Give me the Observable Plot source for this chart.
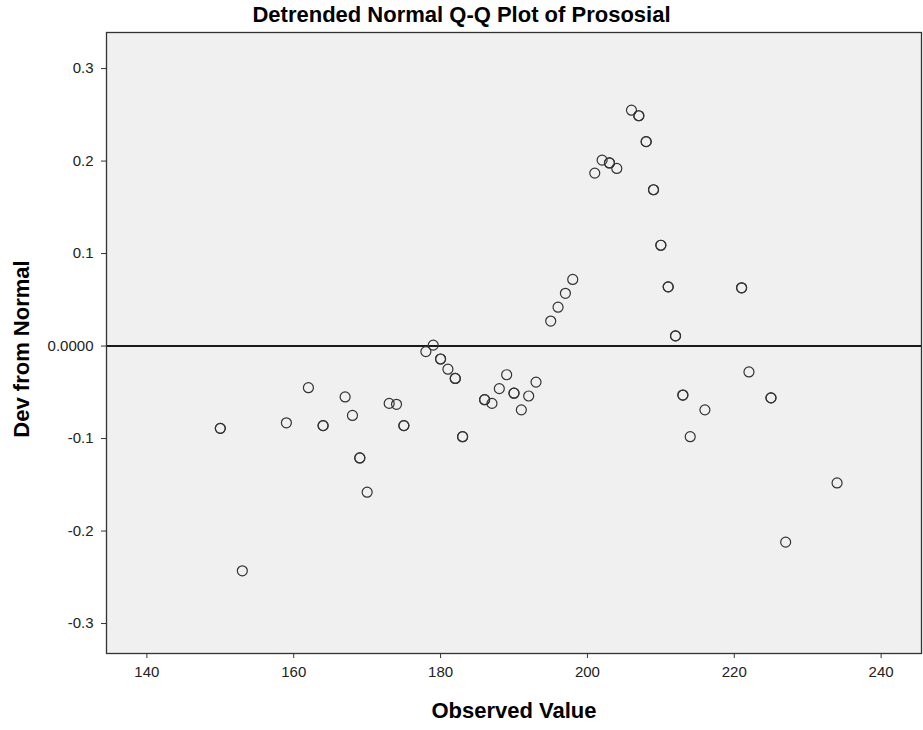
<!DOCTYPE html>
<html>
<head>
<meta charset="utf-8">
<script src="https://cdn.jsdelivr.net/npm/d3@7"></script>
<script src="https://cdn.jsdelivr.net/npm/@observablehq/plot@0.6"></script>
<style>
  html, body { margin: 0; padding: 0; background: #ffffff; }
  #wrap { width: 923px; height: 730px; overflow: hidden; }
  #title {
    width: 923px; height: 28px; box-sizing: border-box; padding-top: 2px;
    line-height: 26px; text-align: center;
    font-family: "Liberation Sans", Arial, sans-serif; font-weight: bold; font-size: 22px; color: #000;
  }
  svg { display: block; }
</style>
</head>
<body>
<div id="wrap">
  <div id="title">Detrended Normal Q-Q Plot of Prososial</div>
  <div id="chart"></div>
</div>
<script>
// Observed values (x) and deviation from normal (y); frequency = number of tied cases at a point
const observed = [150,153,159,162,164,167,168,169,170,173,174,175,178,179,180,181,182,183,186,187,188,189,190,191,192,193,195,196,197,198,201,202,203,204,206,207,208,209,210,211,212,213,214,216,221,222,225,227,234];
const devFromNormal = [-0.089,-0.243,-0.083,-0.045,-0.086,-0.055,-0.075,-0.121,-0.158,-0.062,-0.063,-0.086,-0.006,0.001,-0.014,-0.025,-0.035,-0.098,-0.058,-0.062,-0.046,-0.031,-0.051,-0.069,-0.054,-0.039,0.027,0.042,0.057,0.072,0.187,0.201,0.198,0.192,0.255,0.249,0.221,0.169,0.109,0.064,0.011,-0.053,-0.098,-0.069,0.063,-0.028,-0.056,-0.212,-0.148];
const frequency = [2,1,1,1,2,1,1,2,1,1,1,2,1,1,2,1,2,2,2,1,1,1,2,1,1,1,1,1,1,1,1,1,2,1,1,2,2,2,2,2,2,2,1,1,2,1,2,1,1];

const xTicks = [140,160,180,200,220,240];
const yTicks = [-0.3,-0.2,-0.1,0,0.1,0.2,0.3];
const xDomain = [134.5, 245.5];
const yDomain = [-0.3324, 0.339];
const xTitle = "Observed Value";
const yTitle = "Dev from Normal";

// expand tied cases so each case is drawn
const points = [];
observed.forEach((v, i) => {
  for (let k = 0; k < frequency[i]; k++) points.push({observed: v, dev: devFromNormal[i]});
});

const yFormat = d => d === 0 ? "0.0000" : d.toFixed(1);

const chart = Plot.plot({
  width: 923,
  height: 702,
  marginTop: 4,
  marginLeft: 106,
  marginRight: 2,
  marginBottom: 77,
  style: {fontFamily: "'Liberation Sans', Arial, sans-serif", fontSize: "15px", color: "#222", background: "#ffffff"},
  x: {domain: xDomain, ticks: xTicks, label: null},
  y: {domain: yDomain, ticks: yTicks, label: null},
  marks: [
    Plot.frame({fill: "#f0f0f0", stroke: null}),
    Plot.ruleY([0], {stroke: "#1a1a1a", strokeWidth: 2}),
    Plot.dot(points, {x: "observed", y: "dev", r: 5, stroke: "#333333", strokeWidth: 1.2, fill: "none"}),
    Plot.frame({stroke: "#333333", strokeWidth: 1.3}),
    Plot.axisX({ticks: xTicks, tickSize: 5, tickPadding: 8, label: null, stroke: "#333", fontSize: 15}),
    Plot.axisY({ticks: yTicks, tickSize: 5, tickPadding: 8, tickFormat: yFormat, label: null, stroke: "#333", fontSize: 15}),
    Plot.text([xTitle], {text: d => d, frameAnchor: "bottom", textAnchor: "middle", lineAnchor: "middle", dy: 57, fontSize: 22, fontWeight: "bold", fill: "#000"}),
    Plot.text([yTitle], {text: d => d, frameAnchor: "left", textAnchor: "middle", lineAnchor: "middle", dx: -85, dy: 6, rotate: -90, fontSize: 22, fontWeight: "bold", fill: "#000"})
  ]
});
document.getElementById("chart").appendChild(chart);
</script>
</body>
</html>
